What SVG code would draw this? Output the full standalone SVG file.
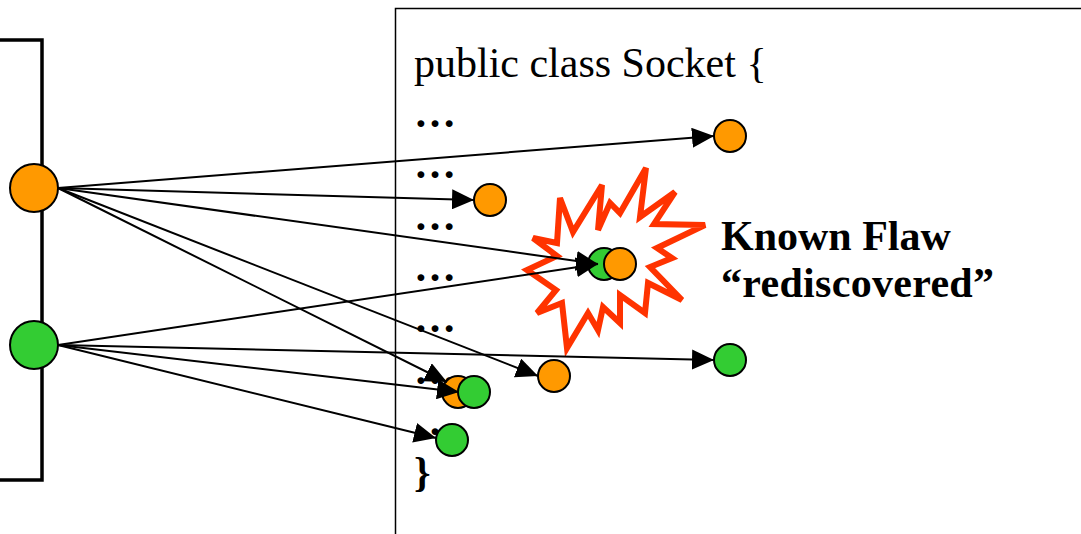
<svg xmlns="http://www.w3.org/2000/svg" width="1081" height="534" viewBox="0 0 1081 534">
<defs>
<style>
.code{font-family:"Liberation Serif","Times New Roman",serif;font-size:42px;fill:#000}
.dots{font-family:"Liberation Serif","Times New Roman",serif;font-size:42px;font-weight:bold;fill:#000}
.label{font-family:"Liberation Serif","Times New Roman",serif;font-size:42px;font-weight:bold;fill:#000}
.or{fill:#FF9900;stroke:#000;stroke-width:2}
.gr{fill:#33CC33;stroke:#000;stroke-width:2}
.conn line{stroke:#000;stroke-width:2;marker-end:url(#ah)}
</style>
<marker id="ah" markerUnits="userSpaceOnUse" markerWidth="22" markerHeight="20" refX="22" refY="10" orient="auto" viewBox="0 0 22 20">
<path d="M0,0 L22,10 L0,20 z" fill="#000"/>
</marker>
</defs>
<rect width="1081" height="534" fill="#fff"/>
<g id="client">
<path d="M0,40 H42 V480 H0" fill="none" stroke="#000" stroke-width="3.5"/>
</g>
<g id="socket-class">
<rect x="395.5" y="8.5" width="720" height="560" fill="none" stroke="#000" stroke-width="1.5"/>
<text class="code" x="414" y="77">public class Socket {</text>
<text class="dots" x="414" y="127">…</text>
<text class="dots" x="414" y="178">…</text>
<text class="dots" x="414" y="230">…</text>
<text class="dots" x="414" y="281">…</text>
<text class="dots" x="414" y="332">…</text>
<text class="dots" x="414" y="384">…</text>
<text class="dots" x="414" y="435">…</text>
<text class="dots" x="414" y="486">}</text>
</g>
<g id="flaw-burst">
<polygon points="646,168 640,217 675,192 654,224 705,225 657,248 672,258 650,267 682,300 648,283 645,313 620,295 620,323 603,307 598,330 588,313 567,348 562,303 537,313 556,290 527,270 557,256 533,238 557,243 560,198 573,232 602,185 598,230 610,203 620,213" fill="#fff" stroke="#FF3300" stroke-width="6" stroke-linejoin="miter"/>
</g>
<g id="label">
<text class="label" x="721" y="250">Known Flaw</text>
<text class="label" x="721" y="297" textLength="273">“rediscovered”</text>
</g>
<g id="t-green-burst"><circle class="gr" cx="604" cy="264" r="16"/></g>
<g id="t-orange-pair"><circle class="or" cx="458" cy="392" r="16"/></g>
<g id="connectors" class="conn">
<line x1="58" y1="188" x2="714" y2="136"/>
<line x1="58" y1="188" x2="474" y2="200"/>
<line x1="58" y1="188" x2="598" y2="264"/>
<line x1="58" y1="188" x2="538" y2="376"/>
<line x1="58" y1="188" x2="447" y2="382"/>
<line x1="58" y1="345" x2="598" y2="264"/>
<line x1="58" y1="345" x2="714" y2="360"/>
<line x1="58" y1="345" x2="459" y2="392"/>
<line x1="58" y1="345" x2="436" y2="438"/>
</g>
<g id="src-orange"><circle class="or" cx="34" cy="188" r="24"/></g>
<g id="src-green"><circle class="gr" cx="34" cy="345" r="24"/></g>
<g id="t-orange-1"><circle class="or" cx="730" cy="136" r="16"/></g>
<g id="t-orange-2"><circle class="or" cx="490" cy="200" r="16"/></g>
<g id="t-orange-burst"><circle class="or" cx="620" cy="264" r="16"/></g>
<g id="t-green-1"><circle class="gr" cx="730" cy="360" r="16"/></g>
<g id="t-orange-3"><circle class="or" cx="554" cy="376" r="16"/></g>
<g id="t-green-pair"><circle class="gr" cx="474" cy="392" r="16"/></g>
<g id="t-green-2"><circle class="gr" cx="452" cy="440" r="16"/></g>
</svg>
